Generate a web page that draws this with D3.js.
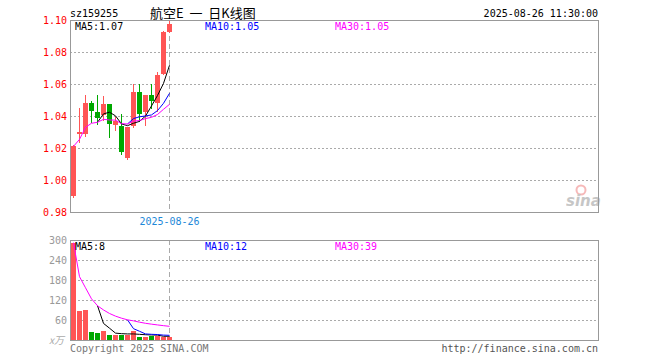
<!DOCTYPE html>
<html>
<head>
<meta charset="utf-8">
<script src="https://cdn.jsdelivr.net/npm/d3@7/dist/d3.min.js"></script>
<style>
  body { margin: 0; background: #fff; }
  svg { display: block; }
  text { font-family: "DejaVu Sans Mono", monospace; font-size: 10px; }
</style>
</head>
<body>
<script>
// daily candles, sz159255
const dates = ["2025-08-04","2025-08-05","2025-08-06","2025-08-07","2025-08-08","2025-08-11","2025-08-12",
  "2025-08-13","2025-08-14","2025-08-15","2025-08-18","2025-08-19","2025-08-20","2025-08-21","2025-08-22",
  "2025-08-25","2025-08-26"];
const opens  = [0.990, 1.0286, 1.0286, 1.048, 1.0427, 1.0408, 1.0473, 1.0346, 1.034, 1.014, 1.0335, 1.0548, 1.0427, 1.053, 1.048, 1.0663, 1.0923];
const closes = [1.021, 1.0298, 1.048, 1.043, 1.0385, 1.0473, 1.035, 1.0367, 1.0177, 1.0331, 1.0548, 1.041, 1.0531, 1.0495, 1.0656, 1.0927, 1.0975];
const highs  = [1.022, 1.0448, 1.053, 1.0495, 1.053, 1.0525, 1.0473, 1.0396, 1.041, 1.0331, 1.060, 1.060, 1.0531, 1.060, 1.0678, 1.093, 1.100];
const lows   = [0.989, 1.023, 1.027, 1.0355, 1.0345, 1.0369, 1.026, 1.0306, 1.0158, 1.0125, 1.0323, 1.0365, 1.0339, 1.0446, 1.0427, 1.0656, 1.092];
const volumes = [292, 88, 90, 24, 20, 27, 16, 16, 16, 16, 27, 10, 10, 13, 13, 10, 10];

const priceTicks = [1.10, 1.08, 1.06, 1.04, 1.02, 1.00, 0.98];
const volTicks = [300, 240, 180, 120, 60];
const maInfo = [{ label: "MA5:1.07", color: "#000" }, { label: "MA10:1.05", color: "#0000ff" }, { label: "MA30:1.05", color: "#ff00ff" }];
const volMaInfo = [{ label: "MA5:8", color: "#000" }, { label: "MA10:12", color: "#0000ff" }, { label: "MA30:39", color: "#ff00ff" }];

const width = 660, height = 360;
const left = 70, right = 598;
const slots = 88; // day slots across the plot
const red = "#ff5555", green = "#00a800";

const svg = d3.select("body").append("svg")
  .attr("width", width)
  .attr("height", height);

const x = d3.scaleLinear().domain([0, slots]).range([left, right]);
const cx = i => Math.floor(x(i)) + 3.5;

const yP = d3.scaleLinear().domain([0.98, 1.10]).range([212, 20]);
const yV = d3.scaleLinear().domain([0, 300]).range([340, 240]);

// moving average: shorter window while there is not enough history (MA30 style)
function movingAvg(vals, n, fromStart) {
  return vals.map((v, i) => {
    if (i < n - 1 && !fromStart) return null;
    const s = vals.slice(Math.max(0, i - n + 1), i + 1);
    return d3.mean(s);
  });
}

// header
svg.append("text").attr("x", 70).attr("y", 17).attr("fill", "#000").text("sz159255");
svg.append("text").attr("x", 150).attr("y", 18)
  .style("font-family", "'Noto Sans CJK SC', sans-serif").style("font-size", "13px")
  .style("white-space", "pre")
  .attr("fill", "#000").text("航空E  一  日K线图");
svg.append("text").attr("x", 598).attr("y", 17).attr("text-anchor", "end").attr("fill", "#000")
  .text("2025-08-26 11:30:00");

function panel(y, ticks, top, bottom, labelColor) {
  const g = svg.append("g");
  g.selectAll("line.grid")
    .data(ticks.filter(t => y(t) > top + 1 && y(t) < bottom - 1))
    .enter().append("line")
    .attr("x1", left).attr("x2", right)
    .attr("y1", d => Math.round(y(d)) + 0.5).attr("y2", d => Math.round(y(d)) + 0.5)
    .attr("stroke", "#aaa").attr("stroke-dasharray", "2,2");
  g.selectAll("text.tick")
    .data(ticks)
    .enter().append("text")
    .attr("x", 67).attr("y", d => y(d) + 4)
    .attr("text-anchor", "end")
    .attr("fill", labelColor)
    .text(d => labelColor === "red" ? d.toFixed(2) : d);
  return g;
}

panel(yP, priceTicks, 20, 212, "red");
panel(yV, volTicks, 240, 340, "#999");
svg.append("text").attr("x", 64).attr("y", 344).attr("text-anchor", "end")
  .style("font-family", "'Noto Sans CJK SC', sans-serif").style("font-style", "italic")
  .attr("fill", "#aaa").text("x万");

// sina mark
const logo = svg.append("g").attr("opacity", 0.55);
logo.append("circle").attr("cx", 581).attr("cy", 190).attr("r", 4.5)
  .attr("fill", "none").attr("stroke", "#f08080").attr("stroke-width", 2);
logo.append("text").attr("x", 566).attr("y", 206)
  .style("font-family", "'DejaVu Sans', sans-serif").style("font-size", "15px")
  .style("font-weight", "bold").style("font-style", "italic")
  .attr("fill", "#999").text("sina");

// cursor line at the last day
const last = dates.length - 1;
[[20, 212], [240, 340]].forEach(([a, b]) => {
  svg.append("line")
    .attr("x1", cx(last)).attr("x2", cx(last)).attr("y1", a).attr("y2", b)
    .attr("stroke", "#aaa").attr("stroke-dasharray", "5,3");
});
svg.append("text").attr("x", cx(last)).attr("y", 225).attr("text-anchor", "middle")
  .attr("fill", "#1e88d8").text(dates[last]);

// candles
const candles = svg.append("g").attr("shape-rendering", "crispEdges");
dates.forEach((d, i) => {
  const up = closes[i] >= opens[i];
  const col = up ? red : green;
  candles.append("line")
    .attr("x1", cx(i)).attr("x2", cx(i))
    .attr("y1", yP(highs[i])).attr("y2", yP(lows[i]))
    .attr("stroke", col);
  const top = yP(Math.max(opens[i], closes[i]));
  const bot = yP(Math.min(opens[i], closes[i]));
  candles.append("rect")
    .attr("x", Math.floor(x(i)) + 1).attr("width", 5)
    .attr("y", top).attr("height", Math.max(1, bot - top))
    .attr("fill", col);
  candles.append("rect")
    .attr("x", Math.floor(x(i)) + 1).attr("width", 5)
    .attr("y", yV(volumes[i])).attr("height", yV(0) - yV(volumes[i]))
    .attr("fill", col);
});

// average lines
function maLines(vals, y, info) {
  const series = [movingAvg(vals, 5, false), movingAvg(vals, 10, false), movingAvg(vals, 30, true)];
  series.forEach((s, k) => {
    const line = d3.line()
      .defined(v => v != null)
      .x((v, i) => cx(i))
      .y(v => y(v));
    svg.append("path")
      .attr("d", line(s))
      .attr("fill", "none")
      .attr("stroke", info[k].color)
      .attr("stroke-width", 1);
  });
}
maLines(closes, yP, maInfo);
maLines(volumes, yV, volMaInfo);

// panel frames
[[20, 212], [240, 340]].forEach(([a, b]) => {
  svg.append("rect")
    .attr("x", left + 0.5).attr("y", a + 0.5)
    .attr("width", right - left).attr("height", b - a)
    .attr("fill", "none").attr("stroke", "#999");
});

// legend labels
const labelX = [75, 205, 335];
maInfo.forEach((m, k) => svg.append("text").attr("x", labelX[k]).attr("y", 30).attr("fill", m.color).text(m.label));
volMaInfo.forEach((m, k) => svg.append("text").attr("x", labelX[k]).attr("y", 250).attr("fill", m.color).text(m.label));

// footer
svg.append("text").attr("x", 70).attr("y", 352).attr("fill", "#777").text("Copyright 2025 SINA.COM");
svg.append("text").attr("x", 598).attr("y", 352).attr("text-anchor", "end").attr("fill", "#555")
  .text("http://finance.sina.com.cn");
</script>
</body>
</html>
